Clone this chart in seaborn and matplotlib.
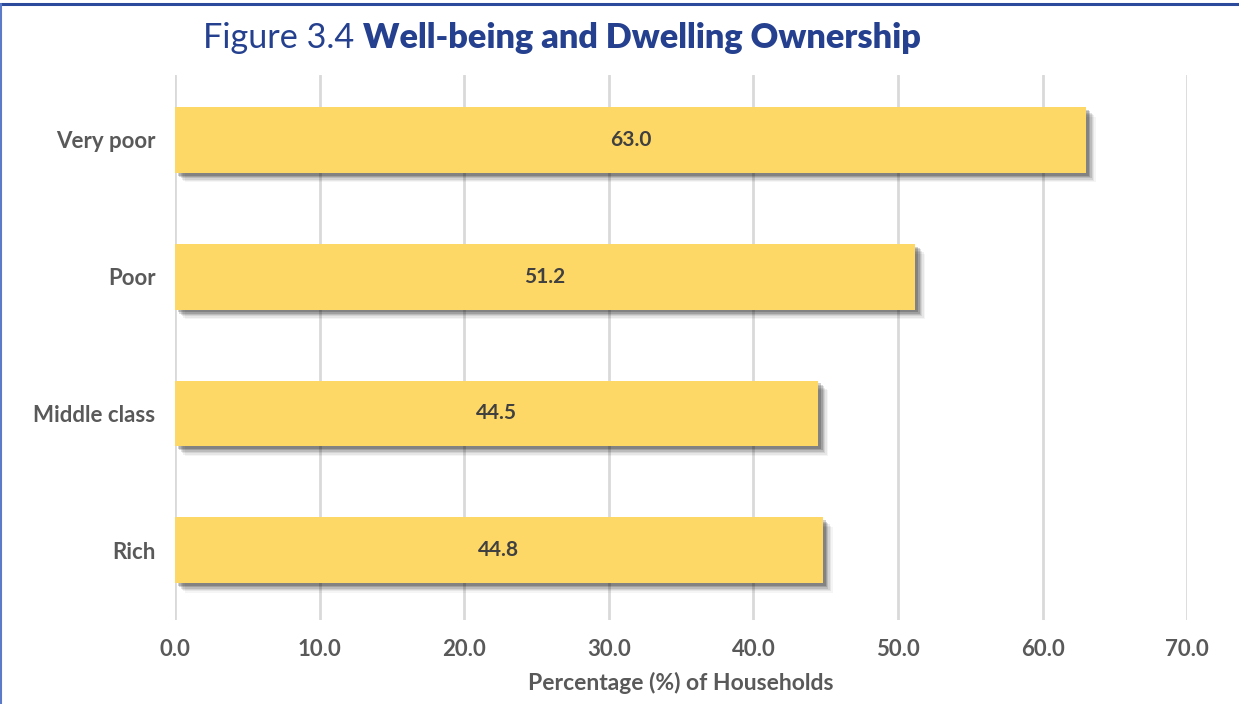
import matplotlib
matplotlib.use("Agg")
import matplotlib.pyplot as plt
import matplotlib.patheffects as pe
from matplotlib.lines import Line2D
import seaborn as sns
import pandas as pd

# Data
categories = ["Very poor", "Poor", "Middle class", "Rich"]
values = [63.0, 51.2, 44.5, 44.8]
x_ticks = [0, 10, 20, 30, 40, 50, 60, 70]

df = pd.DataFrame({"group": categories, "share": values})

sns.set_theme(style="white")
plt.rcParams["font.family"] = ["Lato", "DejaVu Sans"]

BAR = "#FED866"
GRID = "#D9D9D9"
TXT = "#595959"
NAVY = "#24408E"

fig = plt.figure(figsize=(12.39, 7.04), dpi=100)
ax = fig.add_axes([0.1412, 0.1193, 0.8170, 0.7742])

sns.barplot(data=df, y="group", x="share", orient="h", color=BAR,
            saturation=1, width=0.48, ax=ax, zorder=3)

# soft drop shadow below and to the right of each bar
shadow = [pe.SimplePatchShadow(offset=(o, -o), shadow_rgbFace="#000000", alpha=a)
          for o, a in [(7, 0.04), (6, 0.06), (5, 0.08), (4, 0.11), (3, 0.15), (2, 0.18)]]
for patch in ax.patches:
    patch.set_edgecolor("none")
    patch.set_path_effects(shadow + [pe.Normal()])

for i, v in enumerate(values):
    ax.text(v / 2, i, f"{v:.1f}", ha="center", va="center", fontsize=15,
            fontweight="bold", color="#404040", zorder=5)

ax.set_xlim(0, 70)
ax.set_ylim(3.51, -0.475)
ax.set_xticks(x_ticks)
ax.set_xticklabels([f"{t:.1f}" for t in x_ticks])
ax.xaxis.grid(True, color=GRID, linewidth=2, zorder=0)
ax.yaxis.grid(False)
for s in ax.spines.values():
    s.set_visible(False)
ax.tick_params(axis="x", length=0, pad=14, labelsize=16, labelcolor=TXT)
ax.tick_params(axis="y", length=0, pad=14, labelsize=16, labelcolor=TXT)
for lab in ax.get_xticklabels() + ax.get_yticklabels():
    lab.set_fontweight("bold")
ax.set_ylabel("")
ax.set_xlabel("Percentage (%) of Households", fontsize=16.5, fontweight="bold",
              color=TXT, labelpad=8)

# Title: light prefix plus bold heading, sized to a fixed width
renderer = fig.canvas.get_renderer()
x0, yc, target_w = 203 / 1239, 0.946, 722
t1 = fig.text(x0, yc, "Figure 3.4 ", fontsize=27, color=NAVY, va="center")
t2 = fig.text(0.5, yc, "Well-being and Dwelling Ownership", fontsize=27,
              color=NAVY, fontweight="heavy", va="center")
w = t1.get_window_extent(renderer).width + t2.get_window_extent(renderer).width
fs = 27 * target_w / w
t1.set_fontsize(fs)
t2.set_fontsize(fs)
bb = t1.get_window_extent(renderer)
t2.set_x(bb.x1 / fig.bbox.width)

# Frame lines at top and left
fig.add_artist(Line2D([0, 1], [0.9945, 0.9945], transform=fig.transFigure,
                      color="#2B4A9B", linewidth=2.2))
fig.add_artist(Line2D([0.0012, 0.0012], [0, 0.9945], transform=fig.transFigure,
                      color="#5B7BC9", linewidth=1.5))

fig.savefig("out.png", dpi=100, facecolor="white")
